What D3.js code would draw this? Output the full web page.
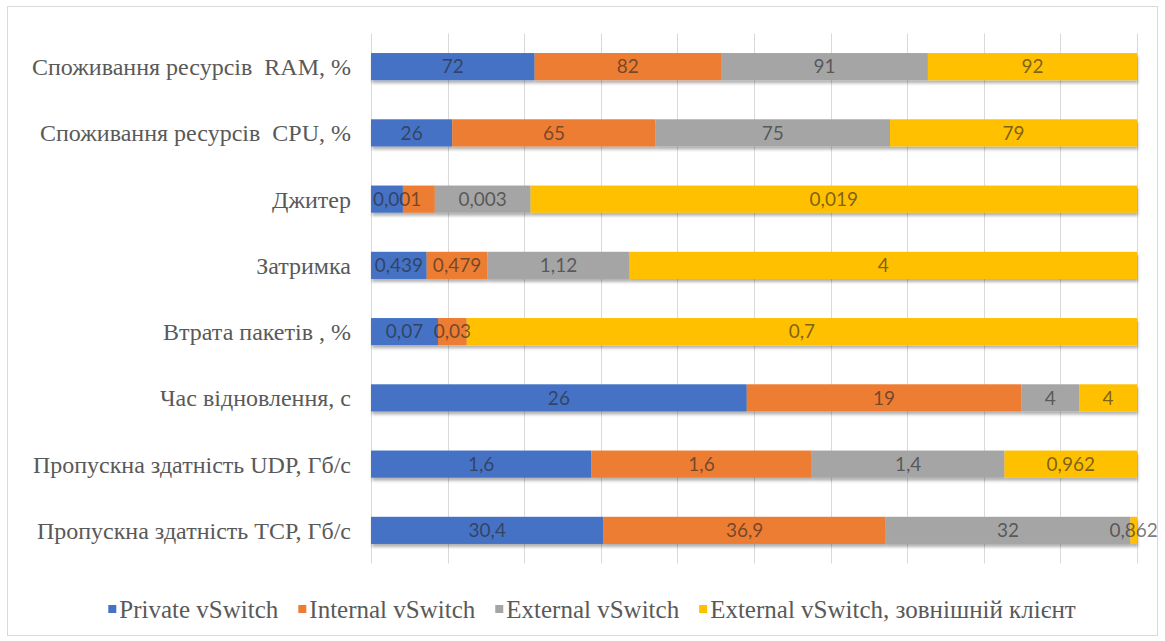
<!DOCTYPE html>
<html>
<head>
<meta charset="utf-8">
<script src="https://cdn.jsdelivr.net/npm/d3@7"></script>
<style>
  body { margin: 0; background: #fff; }
</style>
</head>
<body>
<svg id="chart"></svg>
<script>
const categories = [
  "Споживання ресурсів  RAM, %",
  "Споживання ресурсів  CPU, %",
  "Джитер",
  "Затримка",
  "Втрата пакетів , %",
  "Час відновлення, с",
  "Пропускна здатність UDP, Гб/с",
  "Пропускна здатність TCP, Гб/с"
];
const seriesNames = ["Private vSwitch", "Internal vSwitch", "External vSwitch", "External vSwitch, зовнішній клієнт"];
const privateVals  = [72, 26, 0.001, 0.439, 0.07, 26, 1.6, 30.4];
const internalVals = [82, 65, 0.001, 0.479, 0.03, 19, 1.6, 36.9];
const externalVals = [91, 75, 0.003, 1.12, null, 4, 1.4, 32];
const clientVals   = [92, 79, 0.019, 4, 0.7, 4, 0.962, 0.862];
const colors = ["#4472C4", "#ED7D31", "#A5A5A5", "#FFC000"];
const gridTicks = [0, 0.1, 0.2, 0.3, 0.4, 0.5, 0.6, 0.7, 0.8, 0.9, 1];

const W = 1165, H = 641;
const margin = { top: 33.5, right: 28, bottom: 77.5, left: 371 };
const width = W - margin.left - margin.right;
const height = H - margin.top - margin.bottom;

const rows = categories.map((c, i) => ({
  cat: c,
  vals: [privateVals[i], internalVals[i], externalVals[i], clientVals[i]]
}));

const svg = d3.select('#chart').attr('width', W).attr('height', H);

const defs = svg.append('defs');
const f = defs.append('filter').attr('id', 'shadow')
  .attr('x', '-5%').attr('y', '-30%').attr('width', '110%').attr('height', '170%');
f.append('feDropShadow').attr('dx', 1).attr('dy', 3).attr('stdDeviation', 1.8)
  .attr('flood-color', '#000').attr('flood-opacity', 0.3);

// chart frame
svg.append('rect')
  .attr('x', 7.5).attr('y', 6.5).attr('width', 1150).attr('height', 629)
  .attr('fill', '#fff').attr('stroke', '#d9d9d9');

const g = svg.append('g').attr('transform', `translate(${margin.left},${margin.top})`);

const x = d3.scaleLinear().domain([0, 1]).range([0, width]);
const y = d3.scaleBand().domain(categories).range([0, height]).paddingInner(0.59).paddingOuter(0.295);

g.selectAll('.grid')
  .data(gridTicks)
  .enter()
  .append('line')
  .attr('class', 'grid')
  .attr('x1', d => Math.round(x(d)) + 0.5)
  .attr('x2', d => Math.round(x(d)) + 0.5)
  .attr('y1', 0)
  .attr('y2', height)
  .attr('stroke', '#d9d9d9')
  .attr('stroke-width', 1);

// stacked bars (100%)
rows.forEach(r => {
  const total = d3.sum(r.vals, v => v || 0);
  let acc = 0;
  r.segs = r.vals.map((v, k) => {
    const s = { k, v, x0: acc / total, x1: (acc + (v || 0)) / total };
    acc += v || 0;
    return s;
  });
});

const rowG = g.selectAll('.row')
  .data(rows)
  .enter()
  .append('g')
  .attr('class', 'row')
  .attr('transform', d => `translate(0,${y(d.cat)})`);

rowG.append('g').attr('filter', 'url(#shadow)')
  .selectAll('rect')
  .data(d => d.segs.filter(s => s.v))
  .enter()
  .append('rect')
  .attr('x', s => x(s.x0))
  .attr('width', s => x(s.x1) - x(s.x0))
  .attr('y', 0)
  .attr('height', y.bandwidth())
  .attr('fill', s => colors[s.k]);

// data labels, skip ones that would collide with the previous label
rowG.each(function (d) {
  const sel = d3.select(this);
  let lastRight = -Infinity;
  d.segs.forEach(s => {
    if (s.v == null) return;
    const t = sel.append('text')
      .attr('y', y.bandwidth() / 2)
      .attr('dy', '0.36em')
      .attr('text-anchor', 'middle')
      .style('font-family', 'Lato, "Open Sans", sans-serif')
      .style('font-size', '19px')
      .attr('fill', '#262626')
      .attr('fill-opacity', 0.62)
      .text(String(s.v).replace('.', ','));
    const w = t.node().getComputedTextLength();
    let cx = x((s.x0 + s.x1) / 2);
    if (cx - w / 2 < 2) cx = 2 + w / 2;
    if (cx - w / 2 < lastRight) { t.remove(); return; }
    t.attr('x', cx);
    lastRight = cx + w / 2;
  });
});

// category labels
g.selectAll('.cat')
  .data(categories)
  .enter()
  .append('text')
  .attr('class', 'cat')
  .attr('x', -20)
  .attr('y', d => y(d) + y.bandwidth() / 2)
  .attr('dy', '0.35em')
  .attr('text-anchor', 'end')
  .style('font-family', '"Liberation Serif", "Times New Roman", serif')
  .style('font-size', '24px')
  .style('white-space', 'pre')
  .attr('fill', '#595959')
  .text(d => d);

// legend
const legend = svg.append('g');
let lx = 0;
seriesNames.forEach((name, k) => {
  const it = legend.append('g');
  it.append('rect').attr('x', 0).attr('y', -4).attr('width', 8).attr('height', 8).attr('fill', colors[k]);
  const t = it.append('text').attr('x', 11).attr('dy', '0.35em')
    .style('font-family', '"Liberation Serif", "Times New Roman", serif')
    .style('font-size', '25px')
    .attr('fill', '#595959')
    .text(name);
  const w = 11 + t.node().getComputedTextLength();
  it.attr('transform', `translate(${lx},0)`);
  lx += w + 20;
});
const legendW = lx - 20;
legend.attr('transform', `translate(${592 - legendW / 2},609)`);
</script>
</body>
</html>
